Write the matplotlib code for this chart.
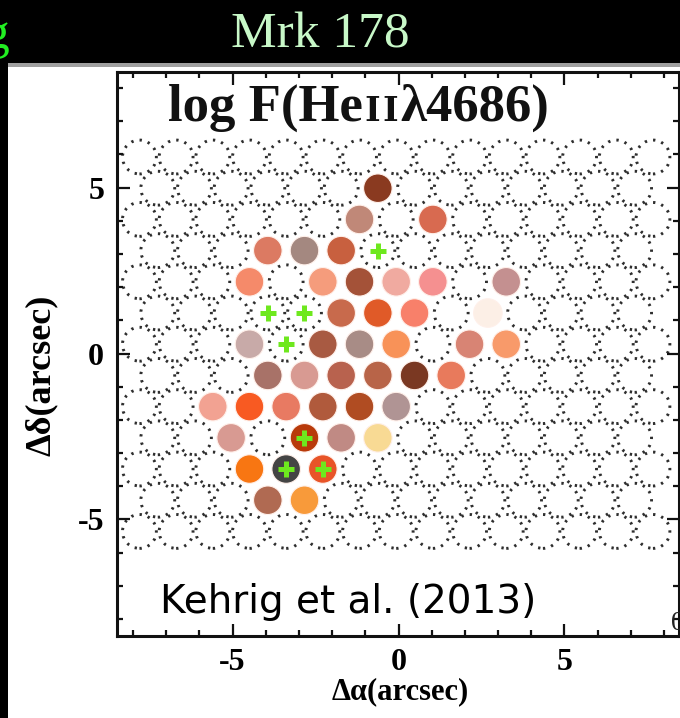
import numpy as np
import matplotlib.pyplot as plt
from matplotlib.patches import Circle, Rectangle
from matplotlib.ticker import MultipleLocator

plt.rcParams['font.family'] = ['Liberation Serif', 'DejaVu Serif']
plt.rcParams['font.weight'] = 'bold'
plt.rcParams['axes.unicode_minus'] = False

W, H = 680, 718

# fibre bundle geometry (arcsec): hexagonal rows, half-pitch column index
n_rows = 13
row_y0, row_dy = 5.92, 0.94
col_x0, col_dx = -1.175, 0.5525

# fibres with a He II detection: row, column index, colour of log F
fiber_row = [1,
             2, 2,
             3, 3, 3,
             4, 4, 4, 4, 4, 4,
             5, 5, 5, 5,
             6, 6, 6, 6, 6, 6,
             7, 7, 7, 7, 7, 7,
             8, 8, 8, 8, 8, 8,
             9, 9, 9, 9,
             10, 10, 10,
             11, 11]
fiber_col = [1,
             0, 4,
             -5, -3, -1,
             -6, -2, 0, 2, 4, 8,
             -1, 1, 3, 7,
             -6, -2, 0, 2, 6, 8,
             -5, -3, -1, 1, 3, 5,
             -8, -6, -4, -2, 0, 2,
             -7, -3, -1, 1,
             -6, -4, -2,
             -5, -3]
fiber_color = ['#8a3a20',
               '#c08878', '#d86a50',
               '#dc7a62', '#a48880', '#c8603f',
               '#f58a6a', '#f59c7c', '#a45238', '#f0aaa0', '#f59090', '#c49090',
               '#c86a4c', '#e05a28', '#f8806a', '#fcefe6',
               '#c8aaa8', '#a85a42', '#a88c86', '#f89258', '#d88474', '#f89a6a',
               '#a87268', '#d89a92', '#b8624e', '#b86448', '#7a3822', '#e87a5c',
               '#f2a292', '#f85a22', '#e87a62', '#b05a3c', '#b04c22', '#b09494',
               '#d89a92', '#b83a0a', '#c08a84', '#f8da94',
               '#f87612', '#444444', '#e85428',
               '#b06a52', '#f89a3a']

# fibres marked with a cross
plus_row = [3, 5, 5, 6, 9, 10, 10]
plus_col = [1, -5, -3, -4, -3, -4, -2]


def fiber_xy(r, c):
    return col_x0 + col_dx * c, row_y0 - row_dy * r


fig = plt.figure(figsize=(W / 100, H / 100), dpi=100, facecolor='black')

# white panel and grey rule under the header
fig.patches.append(Rectangle((8 / W, 0), 1 - 8 / W, 1 - 67 / H,
                             transform=fig.transFigure, fc='white', ec='none', zorder=-2))
fig.patches.append(Rectangle((8 / W, 1 - 66.5 / H), 1 - 8 / W, 3.5 / H,
                             transform=fig.transFigure, fc='#a0a0a0', ec='none', zorder=-1))

ax = fig.add_axes([116.7 / W, 1 - 636 / H, (679 - 116.7) / W, (636 - 71.7) / H])
ax.set_facecolor('white')
ax.set_xlim(-8.49, 8.45)
ax.set_ylim(-8.51, 8.49)

filled = set(zip(fiber_row, fiber_col))
for r in range(n_rows):
    cols = range(-12, 17, 2) if r % 2 == 0 else range(-11, 16, 2)
    for c in cols:
        if (r, c) in filled:
            continue
        ax.add_patch(Circle(fiber_xy(r, c), 0.51, fill=False, ec='#2e2e2e',
                            lw=2.1, ls=(0, (0.8, 2.1))))

for r, c, col in zip(fiber_row, fiber_col, fiber_color):
    ax.add_patch(Circle(fiber_xy(r, c), 0.43, fc=col, ec='#fff0ea', lw=0.8, zorder=3))

px_, py_ = fiber_xy(np.array(plus_row), np.array(plus_col))
ax.plot(px_, py_, ls='none', marker='+', ms=12, mew=3.6, color='#6ee81e', zorder=4)

ax.xaxis.set_major_locator(MultipleLocator(5))
ax.yaxis.set_major_locator(MultipleLocator(5))
ax.xaxis.set_minor_locator(MultipleLocator(1))
ax.yaxis.set_minor_locator(MultipleLocator(1))
ax.tick_params(which='both', direction='in', top=True, right=True, width=1.6, color='#111111')
ax.tick_params(which='major', length=9, labelsize=23, pad=9)
ax.tick_params(which='minor', length=4.5)
for s in ax.spines.values():
    s.set_linewidth(2.2)
    s.set_color('#111111')

# axis titles
fig.text(400 / W, 1 - 692 / H, 'Δα(arcsec)', ha='center', va='center', fontsize=22)
fig.text(41 / W, 1 - 375 / H, 'Δδ(arcsec)', ha='center', va='center', fontsize=26,
         rotation=90)

# panel title, built from pieces so the ionisation numeral can be smaller
renderer = fig.canvas.get_renderer()
x = 168
for txt, kw, gap in [('log F(He', dict(fontsize=38), 2),
                     ('I', dict(fontsize=24, family='DejaVu Serif'), 2),
                     ('I', dict(fontsize=24, family='DejaVu Serif'), 2),
                     ('λ4686)', dict(fontsize=38), 0)]:
    t = fig.text(x / W, 1 - 121 / H, txt, ha='left', va='baseline', color='#111111', **kw)
    x = t.get_window_extent(renderer).x1 + gap

fig.text(160 / W, 1 - 613 / H, 'Kehrig et al. (2013)', ha='left', va='baseline',
         fontsize=28, family='DejaVu Sans', fontweight='normal', color='black')

# header
fig.text(320 / W, 1 - 48 / H, 'Mrk 178', ha='center', va='baseline', fontsize=37,
         fontweight='normal', color='#c8f8c8')
fig.text(9 / W, 1 - 48 / H, 'g', ha='right', va='baseline', fontsize=37,
         fontweight='normal', color='#22ee22')
fig.text(671 / W, 1 - 624 / H, '0', ha='left', va='center', fontsize=20,
         fontweight='normal', color='#222222')

fig.savefig('out.png', dpi=100, facecolor=fig.get_facecolor())
